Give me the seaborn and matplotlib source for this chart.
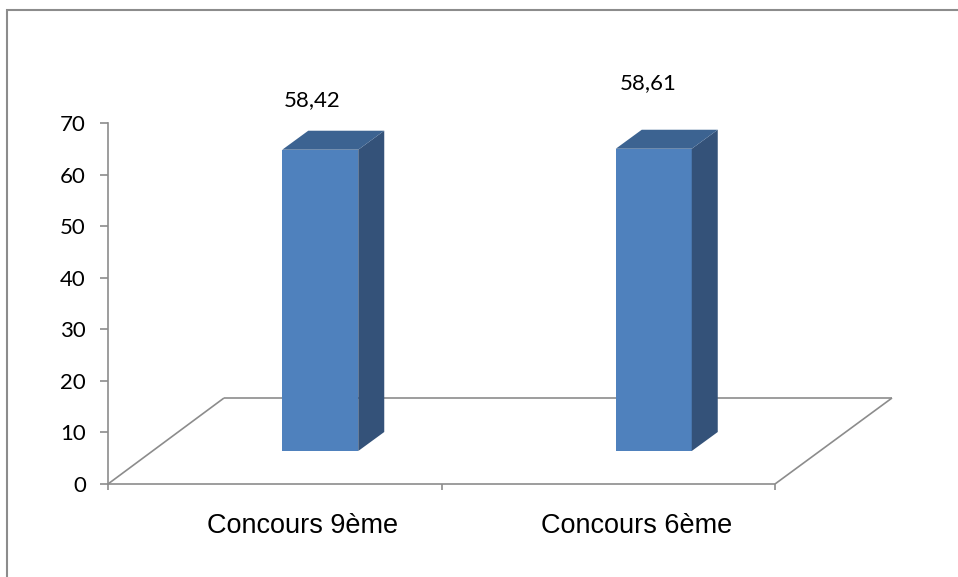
import matplotlib
matplotlib.use("Agg")
import matplotlib.pyplot as plt
import matplotlib.transforms as mtransforms
from matplotlib.patches import Polygon, Rectangle
import seaborn as sns
import pandas as pd

# Data
categories = ["Concours 9ème", "Concours 6ème"]
values = [58.42, 58.61]
y_ticks = [0, 10, 20, 30, 40, 50, 60, 70]

# Styling
FRONT = "#4F81BD"
TOP = "#3C6391"
SIDE = "#345279"
GRID_GRAY = "#8C8C8C"
label_offsets_pt = [(-6, 36), (-4, 47)]  # value-label nudges (points)

sns.set_style("white")
plt.rcParams["font.family"] = ["Lato", "DejaVu Sans"]

W, H, DPI = 958, 577, 100
fig = plt.figure(figsize=(W / DPI, H / DPI), dpi=DPI)

# chart-area border
fig.patches.append(Rectangle((7 / W, 0 - 0.05), 1.1, (H - 10) / H + 0.05,
                             transform=fig.transFigure, fill=False,
                             edgecolor=GRID_GRAY, linewidth=1.5))

# plot area: value axis runs from y=484 px (0) to y=123 px (70)
ax_left, ax_right = 108, 892
ax_bottom, ax_top = 484, 123
ax = fig.add_axes([ax_left / W, (H - ax_bottom) / H,
                   (ax_right - ax_left) / W, (ax_bottom - ax_top) / H])
ax.set_facecolor("none")

px_per_cat = 333.5
x_min = -0.5
x_max = x_min + (ax_right - ax_left) / px_per_cat

# bars sit partway back on the floor: shift in pixels
bar_shift = mtransforms.ScaledTranslation(45.5 / DPI, 33 / DPI, fig.dpi_scale_trans)
bar_trans = ax.transData + bar_shift

df = pd.DataFrame({"category": categories, "value": values})
sns.barplot(data=df, x="category", y="value", ax=ax, color=FRONT,
            saturation=1, width=76 / px_per_cat, transform=bar_trans,
            linewidth=0, zorder=3)

ax.set_xlim(x_min, x_max)
ax.set_ylim(0, 70)

# floor parallelogram
depth_x = (224 - ax_left) / px_per_cat
depth_y = (ax_bottom - 398) / ((ax_bottom - ax_top) / 70)
floor_kw = dict(color=GRID_GRAY, linewidth=1.2, zorder=1, clip_on=False,
                solid_capstyle="butt")
ax.plot([x_min, len(categories) - 0.5], [0, 0], **floor_kw)
ax.plot([x_min, x_min + depth_x], [0, depth_y], **floor_kw)
ax.plot([x_min + depth_x, x_max], [depth_y, depth_y], **floor_kw)
ax.plot([len(categories) - 0.5, x_max], [0, depth_y], **floor_kw)

# 3-D faces for each bar (top and right side)
depth = (26, 19)
inv = ax.transData.inverted()
bars = [p for p in ax.patches if isinstance(p, Rectangle)]
for p in bars:
    x0, w, h = p.get_x(), p.get_width(), p.get_height()
    tl = bar_trans.transform((x0, h))
    tr = bar_trans.transform((x0 + w, h))
    br = bar_trans.transform((x0 + w, 0))
    shift = lambda pt: (pt[0] + depth[0], pt[1] + depth[1])
    side = inv.transform([br, tr, shift(tr), shift(br)])
    top = inv.transform([tl, tr, shift(tr), shift(tl)])
    ax.add_patch(Polygon(side, closed=True, facecolor=SIDE, edgecolor="none",
                         zorder=3, clip_on=False))
    ax.add_patch(Polygon(top, closed=True, facecolor=TOP, edgecolor="none",
                         zorder=3, clip_on=False))

# value labels
for p, v, (dx, dy) in zip(bars, values, label_offsets_pt):
    cx = p.get_x() + p.get_width() / 2
    ax.annotate(f"{v:.2f}".replace(".", ","), xy=(cx, v), xycoords=bar_trans,
                xytext=(dx, dy), textcoords="offset points",
                ha="center", va="center", fontsize=16, color="black",
                annotation_clip=False)

# axes
for s in ["top", "right", "bottom"]:
    ax.spines[s].set_visible(False)
ax.spines["left"].set_color(GRID_GRAY)
ax.spines["left"].set_linewidth(1.2)
ax.set_yticks(y_ticks)
ax.tick_params(axis="y", direction="out", length=6, width=1.2, color=GRID_GRAY,
               labelsize=16, labelcolor="black", pad=10, left=True)
ax.set_xticks(range(len(categories)))
ax.set_xticklabels(categories, fontsize=19.5, family=["Liberation Sans", "DejaVu Sans"])
ax.set_xticks([x_min + i for i in range(len(categories) + 1)], minor=True)
ax.tick_params(axis="x", which="major", length=0, pad=21, labelcolor="black")
ax.tick_params(axis="x", which="minor", direction="out", length=4, width=1.2,
               color=GRID_GRAY, bottom=True)
ax.set_xlabel("")
ax.set_ylabel("")
ax.grid(False)

# category labels sit a little right of the category centre
label_shift = mtransforms.ScaledTranslation(28 / DPI, 0, fig.dpi_scale_trans)
for lbl in ax.get_xticklabels():
    lbl.set_transform(lbl.get_transform() + label_shift)

fig.savefig("out.png", dpi=DPI)
